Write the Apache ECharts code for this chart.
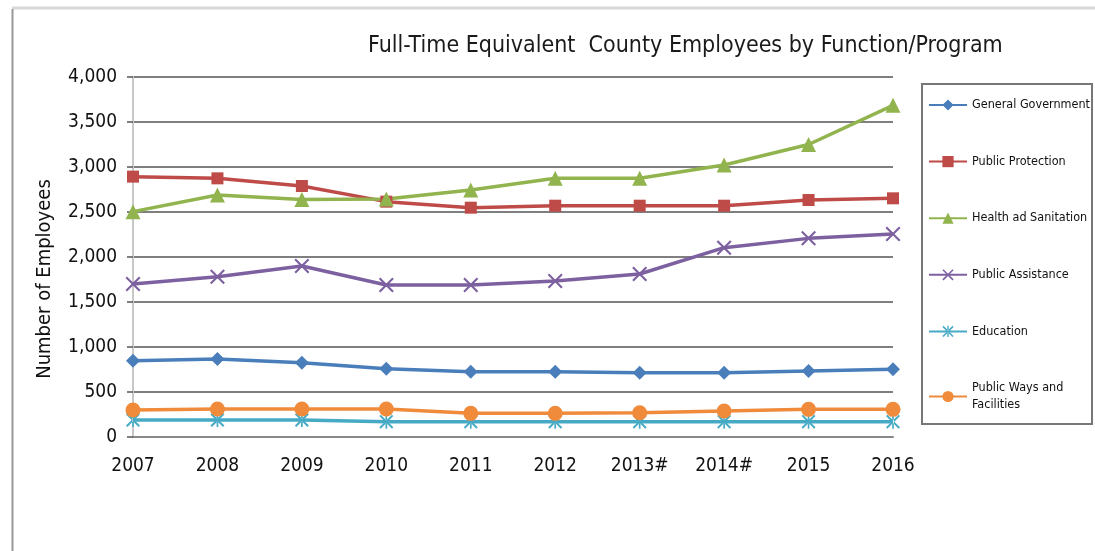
<!DOCTYPE html>
<html>
<head>
<meta charset="utf-8">
<script src="https://cdn.jsdelivr.net/npm/echarts@6/dist/echarts.min.js"></script>
<style>
html,body{margin:0;padding:0;background:#fff;}
#chart{width:1095px;height:551px;}
</style>
</head>
<body>
<div id="chart"></div>
<script>
const categories = ['2007','2008','2009','2010','2011','2012','2013#','2014#','2015','2016'];
const generalGovernment = [848, 867, 826, 759, 726, 726, 715, 715, 733, 752];
const publicProtection = [2893, 2874, 2789, 2615, 2548, 2570, 2570, 2570, 2633, 2652];
const healthSanitation = [2504, 2689, 2640, 2645, 2744, 2874, 2874, 3022, 3250, 3685];
const publicAssistance = [1700, 1781, 1900, 1689, 1689, 1733, 1811, 2104, 2207, 2256];
const education = [189, 189, 189, 170, 170, 170, 170, 170, 170, 170];
const publicWays = [300, 311, 311, 311, 263, 263, 270, 289, 307, 307];
const seriesNames = ['General Government','Public Protection','Health ad Sanitation','Public Assistance','Education','Public Ways and\nFacilities'];
const yTicks = [0, 500, 1000, 1500, 2000, 2500, 3000, 3500, 4000];

const FONT = '"DejaVu Sans Condensed", "Liberation Sans", sans-serif';
const X_PATH = 'path://M0,1L1,0L5,4L9,0L10,1L6,5L10,9L9,10L5,6L1,10L0,9L4,5Z';
const STAR_PATH = 'path://M0,1L1,0L5,4L9,0L10,1L6,5L10,9L9,10L5,6L1,10L0,9L4,5Z M4.4,0L4.4,10L5.6,10L5.6,0Z';

const colors = ['#4A7EBB','#BE4B48','#92B44E','#7D60A0','#46AAC5','#F08B3C'];
const symbols = ['diamond','rect','triangle',X_PATH,STAR_PATH,'circle'];
const sizes = [14, 12, 15, 15, 14, 15];
const dataList = [generalGovernment, publicProtection, healthSanitation, publicAssistance, education, publicWays];

const chart = echarts.init(document.getElementById('chart'), null, {renderer:'canvas'});
chart.setOption({
  animation: false,
  backgroundColor: '#fff',
  title: {
    text: 'Full-Time Equivalent  County Employees by Function/Program',
    left: 368, top: 35,
    padding: 0,
    textStyle: {fontFamily: FONT, fontSize: 23, fontWeight: 'normal', color: '#1a1a1a'}
  },
  graphic: [
    {type:'line', shape:{x1:12, y1:8, x2:1095, y2:8}, style:{stroke:'#d8d8d8', lineWidth:3}, z:0},
    {type:'line', shape:{x1:12.5, y1:9, x2:12.5, y2:551}, style:{stroke:'#999', lineWidth:2}, z:0},
    {type:'rect', shape:{x:922, y:84, width:170, height:340}, style:{fill:'#fff', stroke:'#777', lineWidth:2}, z:0}
  ],
  legend: {
    orient: 'vertical',
    left: 928, top: 96.5,
    padding: 0,
    itemWidth: 38, itemHeight: 14, itemGap: 39.6,
    textStyle: {fontFamily: FONT, fontSize: 12.5, color: '#111', lineHeight: 17},
    data: seriesNames,
    z: 5
  },
  grid: {left: 133, right: 202, top: 77, height: 360, containLabel: false},
  xAxis: {
    type: 'category',
    data: categories,
    boundaryGap: false,
    axisLine: {show: true, lineStyle: {color: '#888', width: 2}},
    axisTick: {show: false},
    axisLabel: {fontFamily: FONT, fontSize: 19, color: '#111', margin: 20},
    splitLine: {show: false}
  },
  yAxis: {
    type: 'value',
    min: 0, max: 4000, interval: 500,
    name: 'Number of Employees',
    nameLocation: 'middle',
    nameGap: 78,
    nameTextStyle: {fontFamily: FONT, fontSize: 20, color: '#111', padding: [0, 44, 0, 0]},
    axisLine: {show: true, lineStyle: {color: '#c8c8c8', width: 2}},
    axisTick: {show: true, length: 6, lineStyle: {color: '#555', width: 1.5}},
    axisLabel: {
      fontFamily: FONT, fontSize: 19, color: '#111', margin: 16,
      formatter: v => yTicks.includes(v) ? v.toLocaleString('en-US') : ''
    },
    splitLine: {show: true, lineStyle: {color: '#555', width: 1.5}}
  },
  series: seriesNames.map((n, i) => ({
    name: n,
    type: 'line',
    data: dataList[i],
    symbol: symbols[i],
    symbolSize: sizes[i],
    showAllSymbol: true,
    lineStyle: {color: colors[i], width: 3.5},
    itemStyle: {color: colors[i]},
    z: 3
  }))
});
</script>
</body>
</html>
